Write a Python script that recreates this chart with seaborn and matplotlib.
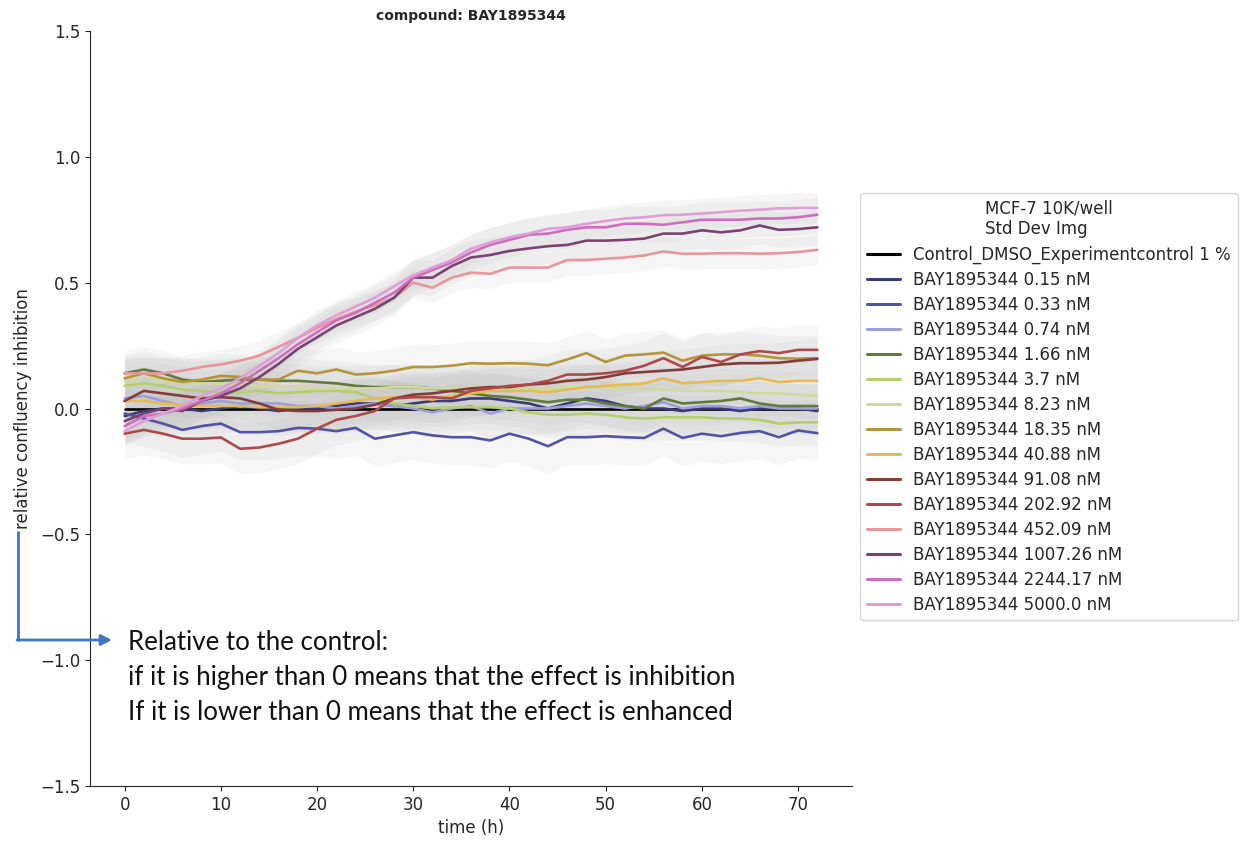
import numpy as np
import pandas as pd
import matplotlib
matplotlib.use("Agg")
import matplotlib.pyplot as plt
import seaborn as sns
from matplotlib.lines import Line2D

# ---------------- data ----------------
time_h = list(range(0, 73, 2))

labels = [
    "Control_DMSO_Experimentcontrol 1 %",
    "BAY1895344 0.15 nM", "BAY1895344 0.33 nM", "BAY1895344 0.74 nM",
    "BAY1895344 1.66 nM", "BAY1895344 3.7 nM", "BAY1895344 8.23 nM",
    "BAY1895344 18.35 nM", "BAY1895344 40.88 nM", "BAY1895344 91.08 nM",
    "BAY1895344 202.92 nM", "BAY1895344 452.09 nM", "BAY1895344 1007.26 nM",
    "BAY1895344 2244.17 nM", "BAY1895344 5000.0 nM",
]

control = [0.0] * 37
c_0_15 = [-0.03, -0.01, 0.0, 0.0, -0.01, 0.0, 0.01, 0.0, -0.01, 0.0, 0.0, 0.01, 0.02,
          0.02, 0.01, 0.02, 0.03, 0.03, 0.04, 0.04, 0.03, 0.02, 0.0, 0.02, 0.04, 0.03,
          0.01, 0.0, 0.0, -0.01, 0.0, 0.0, -0.01, 0.0, 0.0, 0.0, -0.01]
c_0_33 = [-0.02, -0.04, -0.06, -0.085, -0.07, -0.06, -0.094, -0.094, -0.09, -0.077, -0.08,
          -0.09, -0.077, -0.12, -0.107, -0.094, -0.107, -0.114, -0.114, -0.127, -0.1, -0.12,
          -0.15, -0.114, -0.114, -0.11, -0.114, -0.117, -0.08, -0.117, -0.1, -0.11, -0.097,
          -0.09, -0.114, -0.087, -0.098]
c_0_74 = [0.04, 0.05, 0.03, 0.01, 0.02, 0.03, 0.02, 0.02, 0.02, 0.01, 0.01, 0.0, 0.01,
          0.02, 0.01, 0.0, -0.015, 0.0, 0.01, -0.02, 0.0, 0.0, 0.0, 0.01, 0.02, 0.01, 0.0,
          0.01, 0.025, 0.0, 0.01, 0.01, 0.0, 0.01, 0.0, 0.0, 0.0]
c_1_66 = [0.14, 0.155, 0.14, 0.115, 0.105, 0.11, 0.115, 0.115, 0.11, 0.11, 0.105, 0.1, 0.09,
          0.085, 0.085, 0.085, 0.08, 0.07, 0.06, 0.05, 0.045, 0.035, 0.025, 0.035, 0.035,
          0.02, 0.01, 0.0, 0.04, 0.02, 0.025, 0.03, 0.04, 0.02, 0.01, 0.01, 0.01]
c_3_7 = [0.09, 0.1, 0.09, 0.075, 0.07, 0.065, 0.065, 0.07, 0.06, 0.065, 0.07, 0.07, 0.065,
         0.04, 0.02, 0.01, 0.0, 0.005, 0.005, 0.005, 0.0, -0.015, -0.025, -0.025, -0.02,
         -0.025, -0.035, -0.04, -0.035, -0.035, -0.035, -0.04, -0.04, -0.045, -0.06, -0.055,
         -0.055]
c_8_23 = [0.11, 0.12, 0.11, 0.1, 0.1, 0.1, 0.095, 0.09, 0.09, 0.085, 0.08, 0.08, 0.08, 0.08,
          0.085, 0.085, 0.08, 0.08, 0.085, 0.085, 0.08, 0.08, 0.08, 0.085, 0.085, 0.085,
          0.08, 0.08, 0.075, 0.07, 0.07, 0.07, 0.065, 0.06, 0.06, 0.055, 0.05]
c_18_35 = [0.12, 0.14, 0.12, 0.105, 0.115, 0.13, 0.125, 0.115, 0.115, 0.15, 0.14, 0.155,
           0.135, 0.14, 0.15, 0.165, 0.165, 0.17, 0.18, 0.178, 0.18, 0.178, 0.172, 0.195,
           0.22, 0.185, 0.21, 0.215, 0.222, 0.19, 0.21, 0.215, 0.215, 0.21, 0.2, 0.198, 0.2]
c_40_88 = [0.03, 0.03, 0.02, 0.015, 0.01, 0.01, 0.01, 0.005, 0.005, 0.005, 0.01, 0.02, 0.03,
           0.04, 0.045, 0.045, 0.035, 0.05, 0.06, 0.07, 0.07, 0.07, 0.065, 0.075, 0.085,
           0.09, 0.095, 0.1, 0.12, 0.1, 0.105, 0.11, 0.11, 0.12, 0.105, 0.11, 0.11]
c_91_08 = [0.03, 0.07, 0.06, 0.05, 0.04, 0.045, 0.04, 0.02, -0.005, -0.01, -0.01, -0.005,
           0.0, 0.015, 0.04, 0.055, 0.06, 0.07, 0.08, 0.085, 0.085, 0.095, 0.1, 0.11, 0.115,
           0.125, 0.14, 0.145, 0.15, 0.155, 0.165, 0.175, 0.18, 0.18, 0.182, 0.19, 0.197]
c_202_92 = [-0.1, -0.085, -0.1, -0.12, -0.12, -0.115, -0.16, -0.155, -0.14, -0.12, -0.08,
            -0.045, -0.03, -0.01, 0.04, 0.045, 0.045, 0.04, 0.07, 0.08, 0.09, 0.095, 0.11,
            0.135, 0.135, 0.14, 0.15, 0.17, 0.2, 0.165, 0.205, 0.185, 0.215, 0.228, 0.22,
            0.233, 0.233]
c_452_09 = [0.14, 0.14, 0.14, 0.15, 0.165, 0.175, 0.19, 0.21, 0.245, 0.28, 0.32, 0.355,
            0.385, 0.41, 0.44, 0.5, 0.48, 0.52, 0.54, 0.535, 0.56, 0.56, 0.56, 0.59, 0.59,
            0.595, 0.6, 0.608, 0.624, 0.615, 0.615, 0.617, 0.617, 0.615, 0.617, 0.622, 0.63]
c_1007_26 = [-0.05, -0.02, 0.0, -0.01, 0.03, 0.05, 0.08, 0.125, 0.177, 0.237, 0.283, 0.33,
             0.363, 0.396, 0.44, 0.52, 0.52, 0.566, 0.6, 0.61, 0.626, 0.636, 0.645, 0.65,
             0.667, 0.667, 0.67, 0.675, 0.695, 0.695, 0.708, 0.7, 0.708, 0.727, 0.71, 0.713,
             0.72]
c_2244_17 = [-0.07, -0.03, -0.02, 0.0, 0.03, 0.06, 0.1, 0.15, 0.2, 0.255, 0.303, 0.35, 0.38,
             0.42, 0.46, 0.52, 0.55, 0.58, 0.62, 0.65, 0.67, 0.69, 0.695, 0.71, 0.72, 0.72,
             0.734, 0.734, 0.73, 0.74, 0.75, 0.75, 0.75, 0.755, 0.755, 0.76, 0.77]
c_5000 = [-0.09, -0.05, -0.02, 0.01, 0.05, 0.08, 0.12, 0.17, 0.22, 0.28, 0.33, 0.37, 0.405,
          0.44, 0.485, 0.53, 0.56, 0.59, 0.635, 0.66, 0.68, 0.695, 0.714, 0.72, 0.734, 0.745,
          0.755, 0.76, 0.768, 0.77, 0.775, 0.78, 0.786, 0.79, 0.795, 0.797, 0.797]

series = [control, c_0_15, c_0_33, c_0_74, c_1_66, c_3_7, c_8_23, c_18_35, c_40_88,
          c_91_08, c_202_92, c_452_09, c_1007_26, c_2244_17, c_5000]

# standard deviation (one value per condition)
std_dev = [0.0, 0.10, 0.11, 0.10, 0.09, 0.09, 0.09, 0.09, 0.09, 0.08, 0.10,
           0.06, 0.07, 0.07, 0.06]

colors = ["#000000", "#393b79", "#5254a3", "#9c9ede", "#637939", "#b5cf6b", "#cedb9c",
          "#b5953a", "#e7ba52", "#843c39", "#ad494a", "#e7969c", "#7b4173", "#ce6dbd",
          "#de9ed6"]

# ---------------- figure ----------------
sns.set_style("ticks")
plt.rcParams['font.family'] = ['DejaVu Sans']

fig = plt.figure(figsize=(12.49, 8.42), dpi=100)
ax = fig.add_axes([90 / 1249, 1 - 786 / 842, (852 - 90) / 1249, (786 - 31) / 842])

rows = []
for lab, vals in zip(labels, series):
    for t, v in zip(time_h, vals):
        rows.append({"time (h)": t, "value": v, "condition": lab})
df = pd.DataFrame(rows)

for lab, vals, sd in zip(labels, series, std_dev):
    v = np.array(vals)
    if sd > 0:
        ax.fill_between(time_h, v - sd, v + sd, color="#b4b4b4", alpha=0.11, lw=0, zorder=1)

sns.lineplot(data=df, x="time (h)", y="value", hue="condition", hue_order=labels,
             palette=colors, linewidth=1.9, ax=ax, legend=False, zorder=3)

ax.set_ylim(-1.5, 1.5)
ax.set_xlim(-3.6, 75.6)
ax.set_yticks([-1.5, -1.0, -0.5, 0.0, 0.5, 1.0, 1.5])
ax.set_xticks(range(0, 71, 10))
ax.tick_params(labelsize=12)
ax.set_xlabel("time (h)", fontsize=12)
ax.set_ylabel("relative confluency inhibition", fontsize=12, labelpad=6)
ax.set_title("compound: BAY1895344", fontsize=10, fontweight="bold", pad=8)
sns.despine(ax=ax)

handles = [Line2D([0], [0], color=c, lw=2.2) for c in colors]
leg = fig.legend(handles, labels, title="MCF-7 10K/well\nStd Dev Img",
                 loc="upper left", bbox_to_anchor=(860 / 1249, 1 - 193 / 842),
                 bbox_transform=fig.transFigure, fontsize=12, title_fontsize=12,
                 frameon=True, borderaxespad=0, labelspacing=0.42)

# annotation arrow and text
blue = "#4472c4"
fig.add_artist(Line2D([18 / 1249, 18 / 1249], [1 - 532 / 842, 1 - 640 / 842],
                      transform=fig.transFigure, color=blue, lw=2))
ax.annotate("", xy=(112 / 1249, 1 - 640 / 842), xycoords="figure fraction",
            xytext=(17 / 1249, 1 - 640 / 842), textcoords="figure fraction",
            arrowprops=dict(arrowstyle="-|>", color=blue, lw=2, mutation_scale=16,
                            shrinkA=0, shrinkB=0))
note_lines = ["Relative to the control:",
              "if it is higher than 0 means that the effect is inhibition",
              "If it is lower than 0 means that the effect is enhanced"]
for i, s in enumerate(note_lines):
    fig.text(128 / 1249, 1 - (643 + i * 35) / 842, s, fontsize=18.6, family="Lato",
             va="center", ha="left", color="#111111")

fig.savefig("out.png", dpi=100)
